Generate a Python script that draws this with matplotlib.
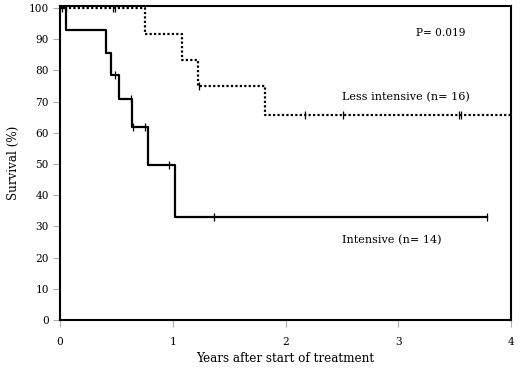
import matplotlib
matplotlib.use("Agg")
import matplotlib.pyplot as plt

# --- data ---
# Intensive (n=14): step times (years) and survival (%)
int_times = [0.0, 0.05, 0.41, 0.45, 0.52, 0.64, 0.78, 1.02, 3.79]
int_surv = [100.0, 92.9, 85.7, 78.6, 70.7, 61.9, 49.5, 33.0, 33.0]
int_cens_t = [0.49, 0.63, 0.65, 0.75, 0.97, 1.37, 3.79]
int_cens_s = [78.6, 70.7, 61.9, 61.9, 49.5, 33.0, 33.0]

# Less intensive (n=16)
less_times = [0.0, 0.75, 1.08, 1.22, 1.82, 4.0]
less_surv = [100.0, 91.7, 83.3, 75.0, 65.6, 65.6]
less_cens_t = [0.015, 0.05, 0.47, 0.49, 1.23, 2.17, 2.51, 3.54, 3.56]
less_cens_s = [100.0, 100.0, 100.0, 100.0, 75.0, 65.6, 65.6, 65.6, 65.6]

x_ticks = [0, 1, 2, 3, 4]
y_ticks = [0, 10, 20, 30, 40, 50, 60, 70, 80, 90, 100]

plt.rcParams['font.family'] = ['DejaVu Serif']

fig = plt.figure(figsize=(5.2, 3.71), dpi=100)
ax = fig.add_axes([0.1154, 0.1375, 0.8673, 0.8463])

ax.step(less_times, less_surv, where='post', color='black', lw=1.6,
        linestyle=(0, (1, 1)))
ax.plot(less_cens_t, less_cens_s, linestyle='none', marker='|',
        color='black', markersize=6, markeredgewidth=0.9)

ax.step(int_times, int_surv, where='post', color='black', lw=1.6)
ax.plot(int_cens_t, int_cens_s, linestyle='none', marker='|',
        color='black', markersize=6, markeredgewidth=0.9)

ax.text(3.16, 92, "P= 0.019", fontsize=7.6, va='center', ha='left')
ax.text(2.5, 71.5, "Less intensive (n= 16)", fontsize=8.1, va='center', ha='left')
ax.text(2.5, 25.6, "Intensive (n= 14)", fontsize=8.1, va='center', ha='left')

ax.set_xlim(0, 4)
ax.set_ylim(0, 100.6)
ax.set_xticks(x_ticks)
ax.set_yticks(y_ticks)
ax.tick_params(direction='out', length=5, width=0.8, color='#b0b0b0',
               labelsize=7.6, pad=3)
ax.tick_params(axis='x', pad=7)
for sp in ax.spines.values():
    sp.set_linewidth(1.5)

ax.set_xlabel("Years after start of treatment", fontsize=8.6, labelpad=4)
ax.set_ylabel("Survival (%)", fontsize=8.6, labelpad=6)

fig.savefig("out.png", dpi=100)
